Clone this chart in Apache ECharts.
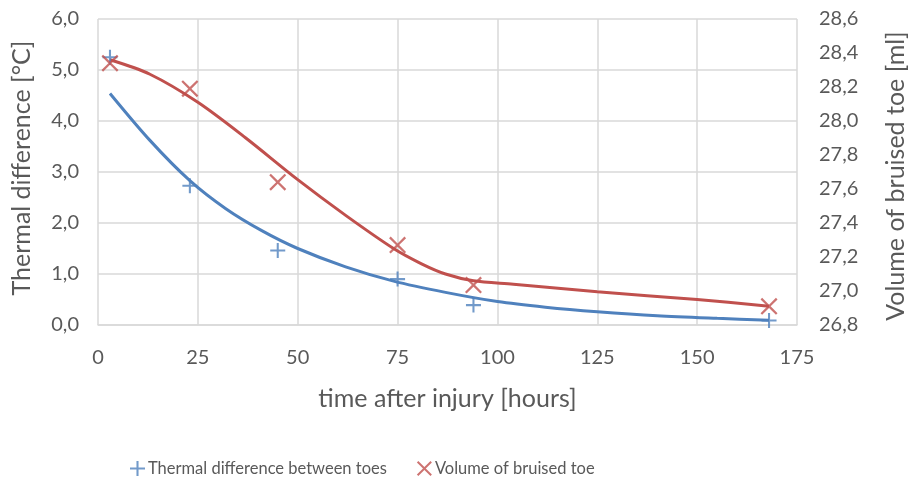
<!DOCTYPE html>
<html>
<head>
<meta charset="utf-8">
<script src="https://cdn.jsdelivr.net/npm/echarts@6/dist/echarts.min.js"></script>
<style>
html,body{margin:0;padding:0;background:#fff;}
#c{width:916px;height:481px;}
</style>
</head>
<body>
<div id="c"></div>
<script>
// Measured points
var thermalPoints = [[3,5.25],[23,2.73],[45,1.46],[75,0.9],[94,0.39],[168,0.09]];
var volumePoints = [[3,28.34],[23,28.19],[45,27.64],[75,27.27],[94,27.035],[168,26.91]];
// Trend lines
var thermalTrend = [[3,4.54],[13,3.62],[23,2.83],[32,2.28],[41,1.85],[50,1.5],[62,1.14],[74,0.86],[87,0.64],[100,0.46],[112,0.35],[125,0.26],[140,0.18],[155,0.13],[168,0.095]];
var volumeTrend = [[3,28.36],[13,28.275],[25,28.11],[37,27.90],[50,27.655],[62,27.445],[74,27.25],[81,27.16],[87,27.10],[94,27.06],[104,27.04],[125,26.995],[150,26.95],[168,26.91]];
var seriesNames = ['Thermal difference between toes','Volume of bruised toe'];

var BLUE = '#4F81BD', RED = '#C0504D', TXT = '#595959', GRID = '#D9D9D9';
var FONT = 'Lato';
var plusPath = 'path://M-1.1,-8 L1.1,-8 L1.1,-1.1 L8,-1.1 L8,1.1 L1.1,1.1 L1.1,8 L-1.1,8 L-1.1,1.1 L-8,1.1 L-8,-1.1 L-1.1,-1.1 Z';
var crossPath = 'path://M-8,-6.5 L-6.5,-8 L0,-1.5 L6.5,-8 L8,-6.5 L1.5,0 L8,6.5 L6.5,8 L0,1.5 L-6.5,8 L-8,6.5 L-1.5,0 Z';
function comma(v){ return v.toFixed(1).replace('.', ','); }

var chart = echarts.init(document.getElementById('c'), null, {renderer:'canvas'});
chart.setOption({
  animation:false,
  backgroundColor:'#fff',
  textStyle:{fontFamily:FONT},
  grid:{left:98, right:108, top:19, bottom:156, containLabel:false},
  legend:{
    data:[{name:seriesNames[0], icon:plusPath},{name:seriesNames[1], icon:crossPath}],
    left:125, top:455, itemWidth:15, itemHeight:15, itemGap:30,
    textStyle:{color:TXT, fontSize:16.5, fontFamily:FONT, padding:[0,0,0,-2]}
  },
  xAxis:{
    type:'value', min:0, max:175, interval:25,
    name:'time after injury [hours]', nameLocation:'middle', nameGap:61,
    nameTextStyle:{color:TXT, fontSize:25, fontFamily:FONT},
    axisLine:{show:true, lineStyle:{color:GRID, width:1.5}},
    axisTick:{show:false},
    axisLabel:{color:TXT, fontSize:20, margin:23, fontFamily:FONT},
    splitLine:{show:true, lineStyle:{color:GRID, width:1.5}}
  },
  yAxis:[{
    type:'value', min:0, max:6, interval:1,
    name:'Thermal difference [°C]', nameLocation:'middle', nameGap:64, nameRotate:90,
    nameTextStyle:{color:TXT, fontSize:25, fontFamily:FONT, padding:[0,0,0,8]},
    axisLine:{show:false}, axisTick:{show:false},
    axisLabel:{color:TXT, fontSize:20, margin:19, formatter:comma, fontFamily:FONT},
    splitLine:{show:true, lineStyle:{color:GRID, width:1.5}}
  },{
    type:'value', min:26.8, max:28.6, interval:0.2, position:'right',
    name:'Volume of bruised toe [ml]', nameLocation:'middle', nameGap:86, nameRotate:90,
    nameTextStyle:{color:TXT, fontSize:25, fontFamily:FONT, padding:[0,8,0,0]},
    axisLine:{show:false}, axisTick:{show:false},
    axisLabel:{color:TXT, fontSize:20, margin:22, formatter:comma, fontFamily:FONT},
    splitLine:{show:false}
  }],
  series:[
    {name:'thermalTrend', type:'line', yAxisIndex:0, data:thermalTrend, smooth:0.3, showSymbol:false,
     lineStyle:{color:BLUE, width:3}, z:2, silent:true},
    {name:'volumeTrend', type:'line', yAxisIndex:1, data:volumeTrend, smooth:0.3, showSymbol:false,
     lineStyle:{color:RED, width:3}, z:2, silent:true},
    {name:seriesNames[0], type:'scatter', yAxisIndex:0, data:thermalPoints, symbol:plusPath, symbolSize:15,
     itemStyle:{color:BLUE}, z:3},
    {name:seriesNames[1], type:'scatter', yAxisIndex:1, data:volumePoints, symbol:crossPath, symbolSize:17,
     itemStyle:{color:RED}, z:3}
  ]
});
</script>
</body>
</html>
